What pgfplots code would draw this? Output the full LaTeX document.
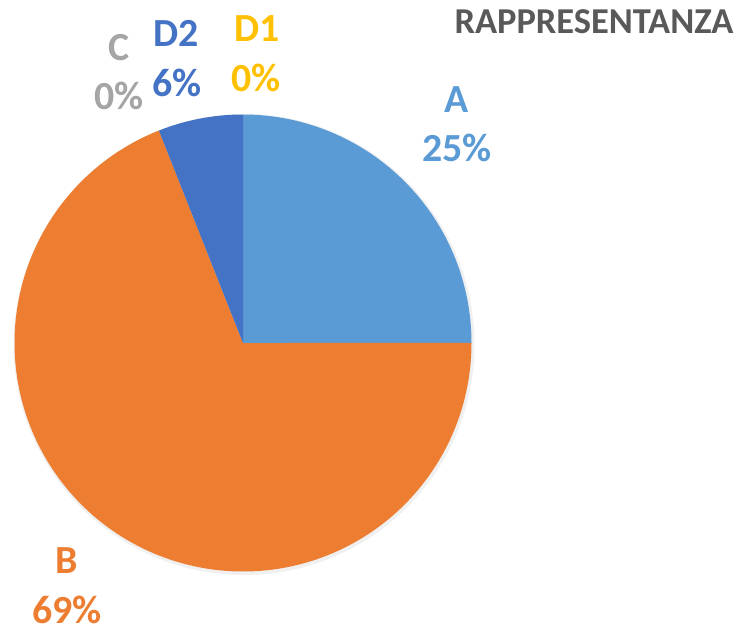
\documentclass[border=0pt]{standalone}
\usepackage{pgfplots}
\pgfplotsset{compat=1.18}
\usepackage{pgfplotstable}
\usepackage{fontspec}
\setmainfont{Carlito}
\definecolor{colA}{HTML}{5B9BD5}
\definecolor{colB}{HTML}{ED7D31}
\definecolor{colC}{HTML}{A5A5A5}
\definecolor{colDone}{HTML}{FFC000}
\definecolor{colDtwo}{HTML}{4472C4}
\definecolor{titlegray}{HTML}{595959}
\tikzset{lbl/.style={font=\fontsize{40}{48}\selectfont\bfseries, inner sep=0pt, anchor=base}}
\pgfplotstableread{
name value
A 25
B 69
C 0
D2 6
D1 0
}\piedata
\pgfplotstablegetelem{0}{value}\of\piedata \pgfmathsetmacro\vA{\pgfplotsretval}
\pgfplotstablegetelem{1}{value}\of\piedata \pgfmathsetmacro\vB{\pgfplotsretval}
\pgfplotstablegetelem{2}{value}\of\piedata \pgfmathsetmacro\vC{\pgfplotsretval}
\pgfplotstablegetelem{3}{value}\of\piedata \pgfmathsetmacro\vD{\pgfplotsretval}
\pgfmathsetmacro\aA{90}
\pgfmathsetmacro\aB{\aA-3.6*\vA}
\pgfmathsetmacro\aC{\aB-3.6*\vB}
\pgfmathsetmacro\aD{\aC-3.6*\vC}
\pgfmathsetmacro\aE{\aD-3.6*\vD}
\begin{document}
\begin{tikzpicture}
\begin{axis}[
  width=740bp, height=632bp, scale only axis,
  xmin=0, xmax=740, ymin=0, ymax=632,
  hide axis, clip=false,
]
% faint shadow
\addplot[draw=none, fill=black, fill opacity=0.06, domain=0:360, samples=200, variable=\t]
  ({244+230.5*cos(\t)},{287.5+230.5*sin(\t)}) -- cycle;
\addplot[draw=none, fill=colA, domain=\aB:\aA, samples=90, variable=\t]
  ({243+228.5*cos(\t)},{289+228.5*sin(\t)}) -- (axis cs:243,289) -- cycle;
\addplot[draw=none, fill=colB, domain=\aC:\aB, samples=200, variable=\t]
  ({243+228.5*cos(\t)},{289+228.5*sin(\t)}) -- (axis cs:243,289) -- cycle;
\addplot[draw=none, fill=colDtwo, domain=\aE:\aD, samples=30, variable=\t]
  ({243+228.5*cos(\t)},{289+228.5*sin(\t)}) -- (axis cs:243,289) -- cycle;
% title
\node[anchor=base, inner sep=0pt, text=titlegray, font=\fontsize{36.6}{42}\selectfont\bfseries] at (axis cs:594,598) {RAPPRESENTANZA};
% labels
\node[lbl, text=colA] at (axis cs:457,519) {A};
\node[lbl, text=colA] at (axis cs:457,470) {25\%};
\node[lbl, text=colB] at (axis cs:67,59) {B};
\node[lbl, text=colB] at (axis cs:67,9) {69\%};
\node[lbl, text=colC] at (axis cs:119,571) {C};
\node[lbl, text=colC] at (axis cs:119,522) {0\%};
\node[lbl, text=colDtwo] at (axis cs:176,585) {D2};
\node[lbl, text=colDtwo] at (axis cs:177,535) {6\%};
\node[lbl, text=colDone] at (axis cs:257,590) {D1};
\node[lbl, text=colDone] at (axis cs:256,540) {0\%};
\coordinate (bbsw) at (axis cs:0,0);
\coordinate (bbne) at (axis cs:740,632);
\end{axis}
\pgfresetboundingbox
\path[use as bounding box] (bbsw) rectangle (bbne);
\end{tikzpicture}
\end{document}
